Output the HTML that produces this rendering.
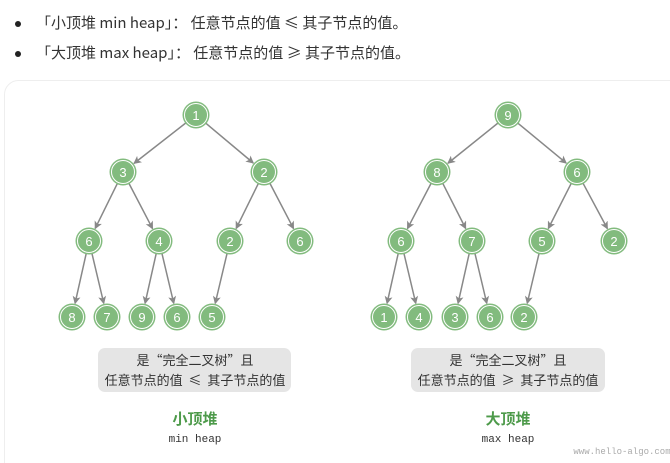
<!DOCTYPE html>
<html><head><meta charset="utf-8"><style>
body{margin:0;width:670px;height:463px;background:#fff;overflow:hidden;font-family:"Noto Sans CJK SC",sans-serif;}
.li{position:absolute;left:36px;font-size:15px;color:#333;line-height:20px;white-space:nowrap;}
.b{position:absolute;left:15px;width:6px;height:6px;border-radius:50%;background:#222;}
</style></head><body>
<div class="b" style="top:21px"></div>
<div class="b" style="top:51px"></div>
<div class="li" style="top:13px">「小顶堆 min heap」： 任意节点的值 ≤ 其子节点的值。</div>
<div class="li" style="top:43px">「大顶堆 max heap」： 任意节点的值 ≥ 其子节点的值。</div>
<svg width="670" height="463" style="position:absolute;left:0;top:0" xmlns="http://www.w3.org/2000/svg">
<defs><marker id="a" markerWidth="8" markerHeight="8" refX="7" refY="4" orient="auto" markerUnits="userSpaceOnUse"><path d="M0,0 L8,4 L0,8 L2,4z" fill="#888"/></marker></defs>
<rect x="4.5" y="80.5" width="680" height="400" rx="14" fill="#fff" stroke="#eee"/>
<g id="g"></g>
<rect x="98" y="348" width="193" height="44" rx="7" fill="#e5e5e5"/>
<rect x="411" y="348" width="194" height="44" rx="7" fill="#e5e5e5"/>
<g font-size="13" fill="#333" text-anchor="middle" font-family="Noto Sans CJK SC,sans-serif">
<text x="195" y="365">是“完全二叉树”且</text><text x="195" y="385" xml:space="preserve">任意节点的值  ≤  其子节点的值</text>
<text x="508" y="365">是“完全二叉树”且</text><text x="508" y="385" xml:space="preserve">任意节点的值  ≥  其子节点的值</text>
<text x="195" y="424" font-weight="bold" font-size="15" fill="#4d9a4a">小顶堆</text>
<text x="508" y="424" font-weight="bold" font-size="15" fill="#4d9a4a">大顶堆</text>
<text x="195" y="442" font-family="Liberation Mono,monospace" font-size="11">min heap</text>
<text x="508" y="442" font-family="Liberation Mono,monospace" font-size="11">max heap</text>
<text x="622" y="454" font-family="Liberation Mono,monospace" font-size="9" fill="#aaa">www.hello-algo.com</text>
</g>
</svg>
<script>
var T=[
[[196,115,1],[123,172,3],[264,172,2],[89,241,6],[159,241,4],[230,241,2],[300,241,6],[72,317,8],[107,317,7],[142,317,9],[177,317,6],[212,317,5]],
[[508,115,9],[437,172,8],[577,172,6],[401,241,6],[472,241,7],[542,241,5],[614,241,2],[384,317,1],[419,317,4],[455,317,3],[490,317,6],[524,317,2]]];
var s="",r=13;
T.forEach(function(n){
for(var i=1;i<n.length;i++){var p=n[Math.floor((i-1)/2)],c=n[i];
var dx=c[0]-p[0],dy=c[1]-p[1],L=Math.hypot(dx,dy),ux=dx/L,uy=dy/L;
s+='<line x1="'+(p[0]+ux*r)+'" y1="'+(p[1]+uy*r)+'" x2="'+(c[0]-ux*(r+1))+'" y2="'+(c[1]-uy*(r+1))+'" stroke="#888" stroke-width="1.5" marker-end="url(#a)"/>';}
n.forEach(function(c){s+='<circle cx="'+c[0]+'" cy="'+c[1]+'" r="13.5" fill="#82bb7e"/><circle cx="'+c[0]+'" cy="'+c[1]+'" r="11.5" fill="none" stroke="#fff" stroke-width="1"/><text x="'+c[0]+'" y="'+(c[1]+5)+'" text-anchor="middle" font-size="13" fill="#fff" font-family="Liberation Sans,sans-serif">'+c[2]+'</text>';});
});
document.getElementById("g").innerHTML=s;
</script>
</body></html>
